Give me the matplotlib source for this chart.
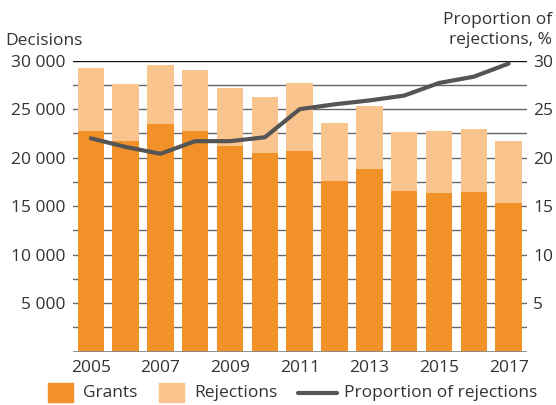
import matplotlib
matplotlib.use("Agg")
import matplotlib.pyplot as plt
import numpy as np
from matplotlib.patches import Rectangle
from matplotlib.lines import Line2D

plt.rcParams['font.family'] = ['Open Sans', 'DejaVu Sans']

years = [2005, 2006, 2007, 2008, 2009, 2010, 2011, 2012, 2013, 2014, 2015, 2016, 2017]
grants = [22750, 21750, 23470, 22750, 21230, 20480, 20690, 17560, 18830, 16560, 16390, 16420, 15290]
rejections = [6500, 5850, 6090, 6300, 5920, 5780, 6980, 6010, 6500, 6050, 6330, 6540, 6460]
proportion = [22.0, 21.1, 20.4, 21.7, 21.7, 22.1, 25.0, 25.5, 25.9, 26.4, 27.7, 28.35, 29.7]
left_ticks = [5000, 10000, 15000, 20000, 25000, 30000]
left_labels = ['5 000', '10 000', '15 000', '20 000', '25 000', '30 000']
right_ticks = [5, 10, 15, 20, 25, 30]

c_grants = '#F39129'
c_rej = '#F9C48E'
c_line = '#555555'
c_text = '#333333'
fs = 12.5

fig = plt.figure(figsize=(5.56, 4.05), dpi=100)
ax = fig.add_axes([72.7 / 556, 53.5 / 405, 454 / 556, 290.8 / 405])

x = np.arange(len(years))
for v in np.arange(2500, 30001, 2500):
    ax.axhline(v, color='#111111' if v == 30000 else '#666666', lw=1.0, zorder=0)
ax.bar(x, grants, width=0.76, color=c_grants, zorder=2)
ax.bar(x, rejections, width=0.76, bottom=grants, color=c_rej, zorder=2)
ax.axhline(0, color='#888888', lw=2, zorder=3)

ax.set_xlim(-0.52, len(years) - 1 + 0.52)
ax.set_ylim(0, 30000)
ax.set_yticks(left_ticks)
ax.set_yticklabels(left_labels)
ax.set_xticks(x[::2])
ax.set_xticklabels([str(y) for y in years[::2]])
ax.tick_params(axis='y', length=0, pad=5.5, labelsize=fs, labelcolor=c_text)
ax.tick_params(axis='x', length=0, pad=6, labelsize=fs, labelcolor=c_text)
for s in ax.spines.values():
    s.set_visible(False)

ax2 = ax.twinx()
ax2.plot(x, proportion, color=c_line, lw=3, solid_capstyle='round', zorder=5)
ax2.set_ylim(0, 30)
ax2.set_yticks(right_ticks)
ax2.tick_params(axis='y', length=0, pad=4.8, labelsize=fs, labelcolor=c_text)
for s in ax2.spines.values():
    s.set_visible(False)

fig.text(5 / 556, (405 - 45) / 405, 'Decisions', fontsize=fs, color=c_text, ha='left', va='baseline')
fig.text(552 / 556, (405 - 24) / 405, 'Proportion of', fontsize=fs, color=c_text, ha='right', va='baseline')
fig.text(552 / 556, (405 - 44.3) / 405, 'rejections, %', fontsize=fs, color=c_text, ha='right', va='baseline')

# legend
ly = (405 - 393) / 405
fig.add_artist(Rectangle((48 / 556, 3 / 405), 25 / 556, 19 / 405, color=c_grants, transform=fig.transFigure))
fig.text(83 / 556, ly, 'Grants', fontsize=fs, color=c_text, va='center')
fig.add_artist(Rectangle((159 / 556, 3 / 405), 25 / 556, 19 / 405, color=c_rej, transform=fig.transFigure))
fig.text(194 / 556, ly, 'Rejections', fontsize=fs, color=c_text, va='center')
fig.add_artist(Line2D([298 / 556, 337 / 556], [ly, ly], color=c_line, lw=3, solid_capstyle='round',
                      transform=fig.transFigure))
fig.text(344 / 556, ly, 'Proportion of rejections', fontsize=fs, color=c_text, va='center')

fig.savefig('out.png', dpi=100)
